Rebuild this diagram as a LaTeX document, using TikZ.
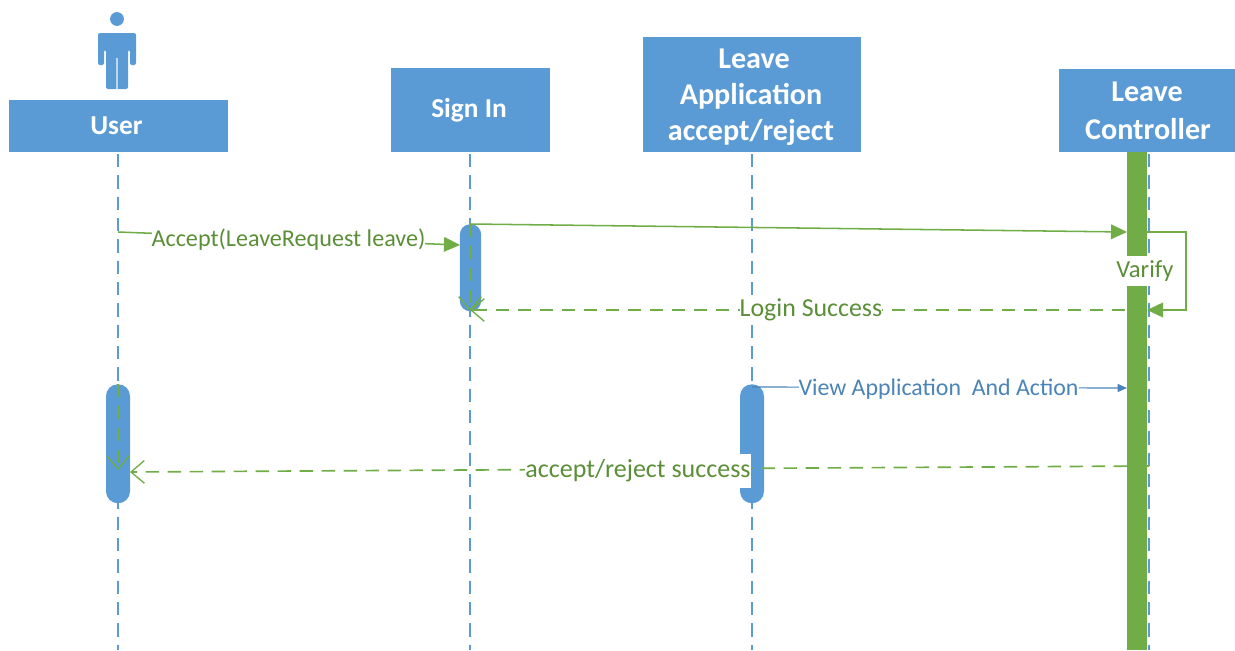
\documentclass[tikz,border=0pt]{standalone}
\usepackage{fontspec}
\setmainfont{Carlito}
\usetikzlibrary{arrows.meta}
\definecolor{ublue}{HTML}{5B9BD5}
\definecolor{ugreen}{HTML}{70AD47}
\definecolor{tgreen}{HTML}{5B8F37}
\definecolor{tblue}{HTML}{4A84B8}
\tikzset{
  x=0.75pt,y=-0.75pt,
  hbox/.style={fill=ublue,draw=none,inner sep=0pt,anchor=north west},
  htext/.style={text=white,font=\fontsize{22.6}{27.75}\selectfont\bfseries,inner sep=0pt},
  life/.style={draw=ublue,line width=1.1pt,dash pattern=on 10pt off 6pt},
  act/.style={fill=ublue,draw=none,inner sep=0pt,anchor=north},
  msg/.style={draw=ugreen,line width=1.15pt,-{Triangle[length=12pt,width=11pt]}},
  ret/.style={draw=ugreen,line width=1.25pt,dash pattern=on 10pt off 6.5pt,-{Straight Barb[length=10pt,width=17pt,line width=1pt]}},
  lbl/.style={fill=white,inner sep=0pt,text=tgreen},
}
\begin{document}
\begin{tikzpicture}
\useasboundingbox (0,0) rectangle (1235,650);
% actor
\fill[ublue] (117,19) circle (5.2pt);
\fill[ublue,rounded corners=1.5pt] (98,65) -- (98,33) -- (136,33) -- (136,65) -- (130,65) -- (130,50) -- (128,50) -- (128,89) -- (106,89) -- (106,50) -- (104,50) -- (104,65) -- cycle;
\draw[white,opacity=.6,line width=0.8pt] (117,58) -- (117,89);
% headers
\node[hbox,minimum width=164pt,minimum height=39pt] (user) at (9,100) {};
\node[hbox,minimum width=119.25pt,minimum height=63pt] (signin) at (391,68) {};
\node[hbox,minimum width=163.5pt,minimum height=86.25pt] (app) at (643,37) {};
\node[hbox,minimum width=132pt,minimum height=62.25pt] (ctrl) at (1059,69) {};
\node[htext,font=\fontsize{20.5}{24}\selectfont\bfseries] (tu) at (116.5,126) {User};
\node[htext,font=\fontsize{20.5}{24}\selectfont\bfseries] (ts) at (469,110) {Sign In};
\node[htext] (ta1) at (754,59) {Leave};
\node[htext] (ta2) at (751,96.5) {Application};
\node[htext] (ta3) at (751,132) {accept/reject};
\node[htext] (tc1) at (1147,92) {Leave};
\node[htext] (tc2) at (1148,129) {Controller};
% lifeline ends
\coordinate (ue) at (118,650);
\coordinate (se) at (470,650);
\coordinate (ae) at (752,650);
\coordinate (ce) at (1149,650);
\draw[life] (118,154) -- (ue);
\draw[life] (470,154) -- (se);
\draw[life] (752,154) -- (ae);
\draw[life] (1149,154) -- (ce);
% activations
\node[act,rounded corners=7.7pt,minimum width=16pt,minimum height=65.25pt] (as) at (470.5,224) {};
\node[act,rounded corners=8.9pt,minimum width=18pt,minimum height=89.25pt] (au) at (118,384) {};
\node[act,rounded corners=8.9pt,minimum width=18pt,minimum height=89.25pt] (aa) at (752,384) {};
\node[fill=ugreen,inner sep=0pt,minimum width=15pt,minimum height=373.5pt,anchor=north] (bar) at (1137,152) {};
% anchor coordinates
\coordinate (m1s) at (118,232);
\coordinate (m1e) at (460,245);
\coordinate (m2s) at (470,224);
\coordinate (m2e) at (1127,232);
\coordinate (v1) at (1147,232);
\coordinate (v2) at (1186,232);
\coordinate (v3) at (1186,310);
\coordinate (v4) at (1147,310);
\coordinate (m3s) at (1147,310);
\coordinate (m3e) at (470,310);
\coordinate (m4s) at (752,387);
\coordinate (m4e) at (1127,388);
\coordinate (m5s) at (1149,466);
\coordinate (m5e) at (130,472);
\coordinate (d1s) at (470,224);
\coordinate (d1e) at (470,311);
\coordinate (d2s) at (118,384);
\coordinate (d2e) at (118,470);
% connectors
\draw[ret] (d1s) -- (d1e);
\draw[ret] (d2s) -- (d2e);
\draw[msg] (m1s) -- (m1e);
\draw[msg] (m2s) -- (m2e);
\draw[msg] (v1) -- (v2) -- (v3) -- (v4);
\draw[ret] (m3s) -- (m3e);
\draw[draw=tblue,line width=0.9pt,-{Triangle[length=7pt,width=6pt]}] (m4s) -- (m4e);
\draw[ret] (m5s) -- (m5e);
% labels
\node[lbl,font=\fontsize{18.1}{22}\selectfont] (l1) at (288.5,240) {Accept(LeaveRequest leave)};
\node[lbl,font=\fontsize{18.4}{22}\selectfont,minimum width=42pt,minimum height=22.5pt] (l2) at (1145,271) {Varify};
\node[lbl,font=\fontsize{19.4}{23}\selectfont] (l3) at (811,310) {Login Success};
\node[lbl,text=tblue,font=\fontsize{17.9}{22}\selectfont] (l4) at (938.5,389.5) {View Application\ \ And Action};
\node[lbl,font=\fontsize{19.5}{23}\selectfont,minimum height=25.5pt] (l5) at (638,471) {accept/reject success};
\end{tikzpicture}
\end{document}
